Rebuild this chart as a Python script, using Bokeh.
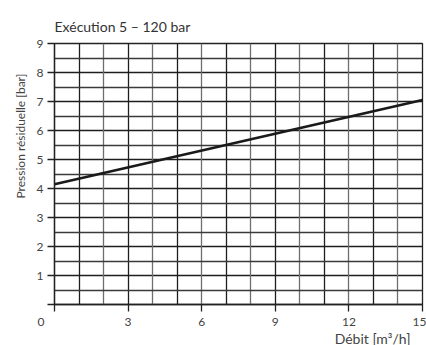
from bokeh.plotting import figure
from bokeh.models import FixedTicker, Grid, Title
from bokeh.embed import file_html
from bokeh.resources import INLINE

# data
flow = [0, 15]
pressure = [4.15, 7.05]
x_ticks = [0, 3, 6, 9, 12, 15]
y_ticks = [0, 1, 2, 3, 4, 5, 6, 7, 8, 9]
title_text = "Exécution 5 – 120 bar"
x_label = "Débit [m³/h]"
y_label = "Pression résiduelle [bar]"

FONT = "Lato"
TXT = "#444444"

p = figure(width=426, height=345, x_range=(0, 15), y_range=(0, 9),
           output_backend="svg", toolbar_location=None,
           min_border_left=54, min_border_right=4, min_border_top=43, min_border_bottom=41)
p.outline_line_color = "#222222"
p.outline_line_width = 1.3
p.background_fill_color = "white"
p.border_fill_color = "white"

# grids
p.xgrid.ticker = FixedTicker(ticks=[1, 3, 5, 7, 9, 11, 13])
p.xgrid.grid_line_color = "#1e1e1e"
p.xgrid.grid_line_width = 1.3
p.ygrid.ticker = FixedTicker(ticks=[1, 2, 3, 4, 5, 6, 7, 8])
p.ygrid.grid_line_color = "#1e1e1e"
p.ygrid.grid_line_width = 1.3
g2 = Grid(dimension=0, ticker=FixedTicker(ticks=[2, 4, 6, 8, 10, 12, 14]),
          grid_line_color="#6e6e6e", grid_line_width=1.3)
g3 = Grid(dimension=1, ticker=FixedTicker(ticks=[0.5, 1.5, 2.5, 3.5, 4.5, 5.5, 6.5, 7.5, 8.5]),
          grid_line_color="#3a3a3a", grid_line_width=1.3)
p.add_layout(g2)
p.add_layout(g3)

# axes
for ax in (p.xaxis[0], p.yaxis[0]):
    ax.axis_line_color = "#222222"
    ax.axis_line_width = 1.3
    ax.major_tick_line_color = "#222222"
    ax.major_tick_line_width = 1.3
    ax.major_tick_in = 0
    ax.minor_tick_line_color = None
    ax.major_label_text_font = FONT
    ax.major_label_text_font_size = "12px"
    ax.major_label_text_color = TXT
p.xaxis.major_label_standoff = 2
p.yaxis.major_label_standoff = 4
p.xaxis.ticker = FixedTicker(ticks=x_ticks)
p.yaxis.ticker = FixedTicker(ticks=y_ticks)
p.xaxis.major_tick_out = 7
p.yaxis.major_tick_out = 7
p.xaxis.major_label_overrides = {0: "0\u2003\u2003\u2003"}
p.yaxis.major_label_overrides = {0: ""}

p.line(flow, pressure, line_color="#1a1a1a", line_width=2.6)

p.add_layout(Title(text=title_text, align="left", text_font=FONT,
                   text_font_size="14px", text_font_style="normal",
                   text_color="#333333", standoff=17), "above")
p.add_layout(Title(text=x_label, align="right", offset=12, text_font=FONT,
                   text_font_size="14px", text_font_style="normal",
                   text_color=TXT, standoff=-8), "below")
p.add_layout(Title(text=y_label, align="left", offset=106, text_font=FONT,
                   text_font_size="12px", text_font_style="normal",
                   text_color=TXT, standoff=12), "left")

open("out.html", "w").write(file_html(p, INLINE))
